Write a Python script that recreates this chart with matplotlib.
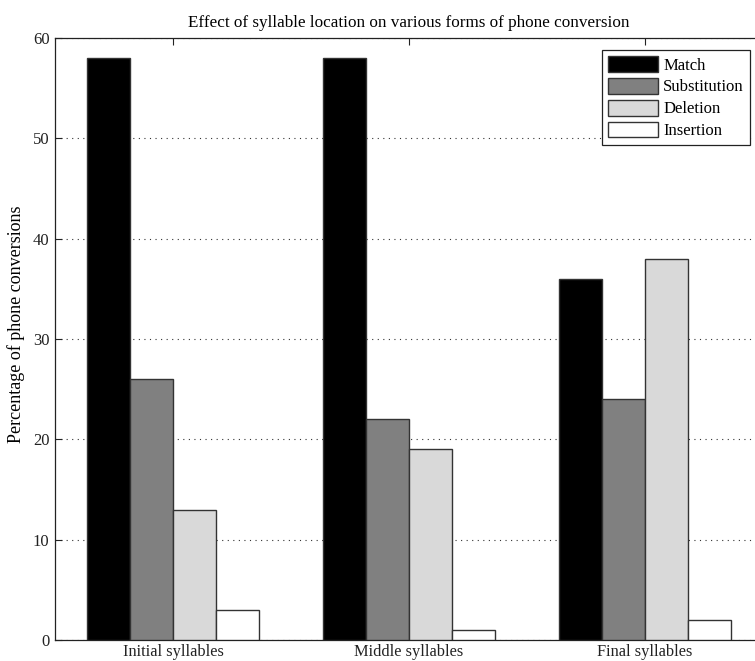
import matplotlib
matplotlib.use("Agg")
import matplotlib.pyplot as plt
import numpy as np

categories = ["Initial syllables", "Middle syllables", "Final syllables"]
series_names = ["Match", "Substitution", "Deletion", "Insertion"]
match = [58, 58, 36]
substitution = [26, 22, 24]
deletion = [13, 19, 38]
insertion = [3, 1, 2]
yticks = [0, 10, 20, 30, 40, 50, 60]

series = [match, substitution, deletion, insertion]
colors = ["#000000", "#808080", "#d9d9d9", "#ffffff"]

plt.rcParams['font.family'] = ['Liberation Serif', 'DejaVu Serif']

fig = plt.figure(figsize=(7.55, 6.61), dpi=100)
ax = fig.add_axes([55/755, 21/661, (763-55)/755, (640-38)/661])

x = np.arange(1, len(categories) + 1)
group_w = 4 / (4 + 1.5)
bw = group_w / 4
for i, (vals, c, name) in enumerate(zip(series, colors, series_names)):
    offs = (i - 1.5) * bw
    ax.bar(x + offs, vals, width=bw, color=c, edgecolor="#333333",
           linewidth=1.0, label=name, zorder=3)

ax.set_xlim(0.5, 3.5)
ax.set_ylim(0, 60)
ax.set_xticks(x)
ax.set_xticklabels(categories, fontsize=11.8)
ax.set_yticks(yticks)
ax.set_yticklabels([str(v) for v in yticks], fontsize=12)
ax.tick_params(direction="in", top=True, right=True, length=5, width=0.8,
               pad=4, colors="#222222")
ax.tick_params(axis='x', pad=3)
for s in ax.spines.values():
    s.set_linewidth(0.9)
    s.set_color("#222222")

ax.yaxis.grid(True, linestyle=(0, (1, 4)), color="#333333", linewidth=0.8, zorder=1)
ax.set_axisbelow(True)

ax.set_title("Effect of syllable location on various forms of phone conversion",
             fontsize=12.3, pad=8)
ax.set_ylabel("Percentage of phone conversions", fontsize=13)
ax.yaxis.set_label_coords(-0.043, 0.525)

leg = ax.legend(loc="upper right", bbox_to_anchor=(750/755, 1 - 50/661),
                bbox_transform=fig.transFigure, borderaxespad=0,
                fancybox=False, framealpha=1, edgecolor="#222222",
                fontsize=12, handlelength=3.0, handleheight=1.08,
                labelspacing=0.26, handletextpad=0.3, borderpad=0.36)
leg.get_frame().set_linewidth(0.9)

fig.savefig("out.png", dpi=100)
